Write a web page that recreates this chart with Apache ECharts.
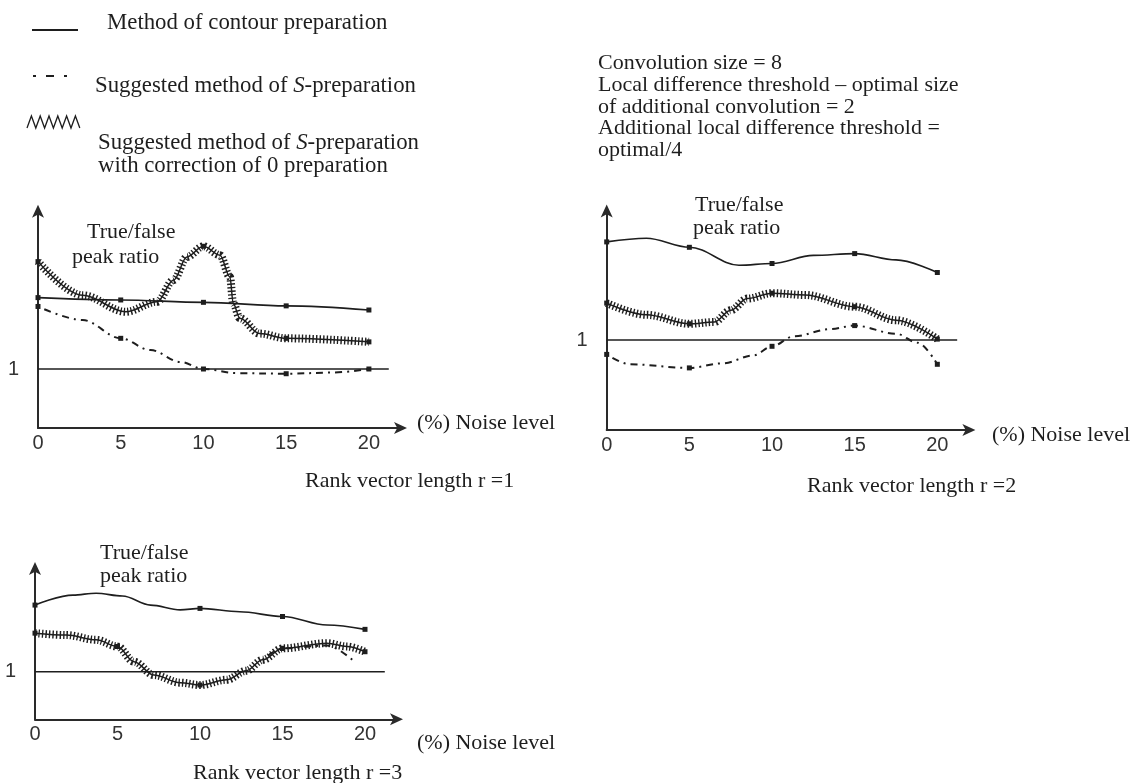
<!DOCTYPE html>
<html><head><meta charset="utf-8">
<script src="https://cdn.jsdelivr.net/npm/echarts@6/dist/echarts.min.js"></script>
<style>html,body{margin:0;padding:0;background:#fff}#c{width:1140px;height:783px}</style>
</head><body><div id="c"></div>
<script>
// ---- tick labels ----
const xTickValues = [0, 5, 10, 15, 20];
const xTickLabels = ['0', '5', '10', '15', '20'];
const yTickValues = [1];
const yTickLabels = ['1'];
const unityLine = [[0, 1], [21.2, 1]];

// ---- panel 1 : rank vector length r = 1 ----
const p1Contour = [[0, 2.21], [5, 2.17], [10, 2.13], [15, 2.07], [20, 2.0]];
const p1SPrep = [[0, 2.06], [2.7, 1.83], [5, 1.52], [6.8, 1.32], [8.6, 1.12], [10, 1.0], [12, 0.93], [15, 0.92], [17.8, 0.94], [20, 1.0]];
const p1SPrepCorr = [[0, 2.82], [2.7, 2.25], [5.3, 1.97], [7.2, 2.14], [8.2, 2.51], [9, 2.9], [10, 3.08], [11, 2.93], [11.6, 2.56], [11.8, 2.11], [12.2, 1.86], [13.4, 1.6], [15, 1.52], [20, 1.46]];

// ---- panel 2 : rank vector length r = 2 ----
const p2Contour = [[0, 2.09], [2.4, 2.13], [5, 2.03], [8, 1.83], [10, 1.85], [12.5, 1.94], [15, 1.96], [17.5, 1.89], [20, 1.75]];
const p2SPrepCorr = [[0, 1.41], [2.4, 1.28], [5, 1.18], [6.5, 1.2], [7.5, 1.33], [8.5, 1.46], [10, 1.52], [12, 1.5], [15, 1.37], [17.5, 1.22], [20, 1.01]];
const p2SPrep = [[0, 0.84], [1.4, 0.73], [5, 0.69], [7, 0.74], [8.9, 0.83], [10, 0.93], [11.3, 1.04], [13.5, 1.12], [15, 1.16], [17.5, 1.07], [18.8, 0.97], [20, 0.73]];

// ---- panel 3 : rank vector length r = 3 ----
const p3Contour = [[0, 2.4], [2.3, 2.61], [3.7, 2.65], [5.3, 2.59], [7, 2.4], [8.8, 2.3], [10, 2.33], [12.4, 2.26], [15, 2.16], [17.7, 1.98], [20, 1.89]];
const p3SPrepCorr = [[0, 1.81], [1.9, 1.77], [3.7, 1.67], [5, 1.53], [6, 1.21], [7.2, 0.93], [8.8, 0.77], [10, 0.72], [11.6, 0.83], [12.8, 1.02], [13.8, 1.25], [15, 1.49], [17.7, 1.6], [18.9, 1.53], [20, 1.42]];
const p3SPrep = [[13.8, 1.25], [15, 1.49], [17.7, 1.55], [19.4, 1.2]];

const INK = '#1e1e1e';
const SERIF = "'Liberation Serif', 'Times New Roman', serif";
const SANS = "'Liberation Sans', Arial, sans-serif";

const chart = echarts.init(document.getElementById('c'), null, {renderer: 'canvas'});

const grids = [
  {left: 38, top: 209.7, width: 364, height: 218.3},
  {left: 606.7, top: 209.5, width: 363.7, height: 220.5},
  {left: 35, top: 567, width: 363, height: 152.3}
];
const yMax = [3.7, 2.45, 3.2];

function axisLineStyle() {
  return {show: true, lineStyle: {color: '#2a2a2a', width: 2}, symbol: ['none', 'arrow'], symbolSize: [9, 13], symbolOffset: [0, 5]};
}
function xAxisFor(i) {
  return {
    type: 'value', gridIndex: i, min: 0, max: 22, interval: 5,
    axisLine: axisLineStyle(),
    axisTick: {show: false}, splitLine: {show: false},
    axisLabel: {
      margin: 5, color: '#333', fontFamily: SANS, fontSize: 20, showMaxLabel: false,
      formatter: v => { const k = xTickValues.indexOf(v); return k >= 0 ? xTickLabels[k] : ''; }
    }
  };
}
function yAxisFor(i) {
  return {
    type: 'value', gridIndex: i, min: 0, max: yMax[i], interval: 1,
    axisLine: axisLineStyle(),
    axisTick: {show: false}, splitLine: {show: false},
    axisLabel: {
      margin: 19, color: '#333', fontFamily: SANS, fontSize: 20, showMaxLabel: false,
      formatter: v => { const k = yTickValues.indexOf(v); return k >= 0 ? yTickLabels[k] : ''; }
    }
  };
}

const markSym = v => xTickValues.indexOf(v[0]) >= 0 ? 'rect' : 'none';

function base(i, data, extra) {
  return Object.assign({
    type: 'line', xAxisIndex: i, yAxisIndex: i, data: data,
    smooth: 0.35, smoothMonotone: 'x', animation: false, silent: true,
    symbol: markSym, symbolSize: 5, showSymbol: true,
    itemStyle: {color: INK}
  }, extra);
}

const series = [];
const panels = [
  {c: p1Contour, s: p1SPrep, z: p1SPrepCorr},
  {c: p2Contour, s: p2SPrep, z: p2SPrepCorr},
  {c: p3Contour, s: p3SPrep, z: p3SPrepCorr}
];
panels.forEach((p, i) => {
  series.push(base(i, unityLine, {smooth: false, symbol: 'none', lineStyle: {color: INK, width: 1.6}}));
  series.push(base(i, p.c, {lineStyle: {color: INK, width: 1.6}}));
  series.push(base(i, p.s, {lineStyle: {color: INK, width: 2, type: [2, 5, 7, 5]}}));
  series.push(base(i, p.z, {lineStyle: {color: INK, width: 1.5}}));
  series.push(base(i, p.z, {symbol: 'none', lineStyle: {color: INK, width: 8, type: [1.4, 2.1]}}));
});

function txt(x, y, text, size, extra) {
  return {
    type: 'text', x: x, y: y, silent: true,
    style: Object.assign({text: text, fontFamily: SERIF, fontSize: size || 22, fill: INK, align: 'left', verticalAlign: 'middle'}, extra || {})
  };
}
const LG = 22.8;
const richS = {rich: {i: {fontStyle: 'italic', fontFamily: SERIF, fontSize: LG, fill: INK}, n: {fontFamily: SERIF, fontSize: LG, fill: INK}}};

// zigzag legend glyph
const zz = [];
for (let k = 0; k <= 12; k++) zz.push([27 + k * 4.4, k % 2 ? 116 : 128]);

const graphic = [
  {type: 'line', silent: true, shape: {x1: 32, y1: 30, x2: 78, y2: 30}, style: {stroke: INK, lineWidth: 2}},
  {type: 'line', silent: true, shape: {x1: 33, y1: 76, x2: 76, y2: 76}, style: {stroke: INK, lineWidth: 2, lineDash: [3, 10, 8, 10]}},
  {type: 'polyline', silent: true, shape: {points: zz}, style: {stroke: INK, lineWidth: 1.3, fill: null}},
  txt(107, 23.5, 'Method of contour preparation', LG),
  txt(95, 86, '{n|Suggested method of }{i|S}{n|-preparation}', LG, richS),
  txt(98, 143, '{n|Suggested method of }{i|S}{n|-preparation}', LG, richS),
  txt(98, 166, 'with correction of 0 preparation', LG),
  txt(598, 63.5, 'Convolution size = 8'),
  txt(598, 85.2, 'Local difference threshold \u2013 optimal size'),
  txt(598, 106.9, 'of additional convolution = 2'),
  txt(598, 128.6, 'Additional local difference threshold ='),
  txt(598, 150.3, 'optimal/4'),
  txt(87, 232, 'True/false'),
  txt(72, 257, 'peak ratio'),
  txt(417, 423, '(%) Noise level'),
  txt(305, 481, 'Rank vector length r =1'),
  txt(695, 205, 'True/false'),
  txt(693, 228, 'peak ratio'),
  txt(992, 435, '(%) Noise level'),
  txt(807, 486, 'Rank vector length r =2'),
  txt(100, 553, 'True/false'),
  txt(100, 576, 'peak ratio'),
  txt(417, 743, '(%) Noise level'),
  txt(193, 773, 'Rank vector length r =3')
];

chart.setOption({
  backgroundColor: '#fff',
  animation: false,
  grid: grids.map(g => Object.assign({outerBoundsMode: 'none', containLabel: false}, g)),
  xAxis: [0, 1, 2].map(xAxisFor),
  yAxis: [0, 1, 2].map(yAxisFor),
  series: series,
  graphic: graphic
});
</script>
</body></html>
